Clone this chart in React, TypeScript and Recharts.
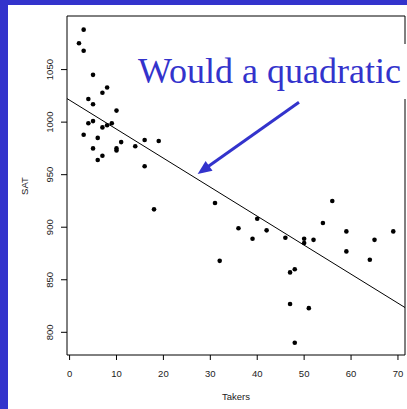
import React from "react";
import {
  ScatterChart, Scatter, XAxis, YAxis, ReferenceArea, ReferenceLine, Label
} from "recharts";

// state-level SAT data: percentage of takers vs mean SAT
const TAKERS = [
  3, 2, 3, 5, 8, 7, 4, 5, 10, 4, 5, 9, 7, 8, 3, 6, 11, 16, 19, 14, 5, 10, 10, 7, 6, 16, 18,
  31, 56, 36, 40, 42, 39, 46, 50, 50, 52, 54, 59, 59, 65, 69, 64, 32, 48, 47, 47, 51, 48,
];
const SAT = [
  1088, 1075, 1068, 1045, 1033, 1028, 1022, 1017, 1011, 999, 1001, 999, 995, 997, 988, 985, 981, 983, 982, 977, 975, 975, 973, 968, 964, 958, 917,
  923, 925, 899, 908, 897, 889, 890, 889, 885, 888, 904, 896, 877, 888, 896, 869, 868, 860, 857, 827, 823, 790,
];
const X_TICKS = [0, 10, 20, 30, 40, 50, 60, 70];
const Y_TICKS = [800, 850, 900, 950, 1000, 1050];
const X_DOMAIN = [-0.55, 71.5];
const Y_DOMAIN = [778.4, 1101];

// least squares line
const FIT_INTERCEPT = 1020.9;
const FIT_SLOPE = -2.76;

// arrow annotation (data coords): tail -> head
const ARROW_FROM = { x: 48.9, y: 1019 };
const ARROW_TO = { x: 27.3, y: 950.7 };

const BLUE = "#3333cc";
const TICK_FONT = { fontFamily: "'Liberation Sans', Arial, sans-serif", fontSize: 9.5, fill: "#222" };

const points = TAKERS.map((t, i) => ({ takers: t, sat: SAT[i] }));
const fitAt = (x: number) => FIT_INTERCEPT + FIT_SLOPE * x;

function Dot(props: any) {
  const { cx, cy } = props;
  return <circle cx={cx} cy={cy} r={2.3} fill="#000" />;
}

function YTick({ x, y, payload }: any) {
  const tx = x - 8;
  return (
    <text x={tx} y={y} transform={`rotate(-90, ${tx}, ${y})`} textAnchor="middle" {...TICK_FONT}>
      {payload.value}
    </text>
  );
}

function Arrow(props: any) {
  const { x1, y1, x2, y2 } = props;
  if (x1 == null) return null;
  const dx = x2 - x1;
  const dy = y2 - y1;
  const len = Math.sqrt(dx * dx + dy * dy);
  const ux = dx / len;
  const uy = dy / len;
  const headLen = 14;
  const headW = 6;
  const bx = x2 - ux * headLen;
  const by = y2 - uy * headLen;
  const pts = `${x2},${y2} ${bx - uy * headW},${by + ux * headW} ${bx + uy * headW},${by - ux * headW}`;
  return (
    <g>
      <line x1={x1} y1={y1} x2={bx + ux * 2} y2={by + uy * 2} stroke={BLUE} strokeWidth={3} />
      <polygon points={pts} fill={BLUE} />
    </g>
  );
}

export default function App() {
  return (
    <div style={{ position: "fixed", left: 0, top: 0, width: 407, height: 409, background: BLUE, overflow: "hidden" }}>
      <div style={{ position: "absolute", left: 8, top: 5, width: 399, height: 404, background: "#fff" }} />
      <div style={{ position: "absolute", left: 0, top: 0 }}>
        <ScatterChart width={407} height={409} margin={{ top: 16, right: 2, bottom: 0, left: 0 }}>
          <XAxis
            type="number"
            dataKey="takers"
            domain={X_DOMAIN}
            ticks={X_TICKS}
            allowDataOverflow
            axisLine={false}
            tickLine={{ stroke: "#000" }}
            tickSize={5}
            tickMargin={10}
            height={54}
            tick={TICK_FONT}
          >
            <Label
              value="Takers"
              position="insideBottom"
              offset={9}
              style={{ fontFamily: "'Liberation Sans', Arial, sans-serif", fontSize: 9.5, fill: "#222" }}
            />
          </XAxis>
          <YAxis
            type="number"
            dataKey="sat"
            domain={Y_DOMAIN}
            ticks={Y_TICKS}
            allowDataOverflow
            axisLine={false}
            tickLine={{ stroke: "#000" }}
            tickSize={6}
            tickMargin={0}
            width={67}
            tick={<YTick />}
          >
            <Label
              content={() => (
                <text x={28} y={186} transform="rotate(-90, 28, 186)" textAnchor="middle" {...TICK_FONT}>
                  SAT
                </text>
              )}
            />
          </YAxis>
          <ReferenceArea
            x1={X_DOMAIN[0]}
            x2={X_DOMAIN[1]}
            y1={Y_DOMAIN[0]}
            y2={Y_DOMAIN[1]}
            fill="none"
            fillOpacity={0}
            stroke="#000"
            strokeWidth={1}
          />
          <ReferenceLine
            segment={[
              { x: X_DOMAIN[0], y: fitAt(X_DOMAIN[0]) },
              { x: X_DOMAIN[1], y: fitAt(X_DOMAIN[1]) },
            ]}
            stroke="#000"
            strokeWidth={1}
          />
          <Scatter data={points} shape={<Dot />} isAnimationActive={false} />
          <ReferenceLine
            segment={[ARROW_FROM, ARROW_TO]}
            shape={(p: any) => <Arrow {...p} />}
          />
        </ScatterChart>
      </div>
      <div
        style={{
          position: "absolute",
          left: 138,
          top: 44,
          width: 269,
          height: 55,
          lineHeight: "55px",
          background: "#fff",
          color: BLUE,
          fontFamily: "'Liberation Serif', 'Times New Roman', serif",
          fontSize: 36,
          whiteSpace: "nowrap",
        }}
      >
        Would a quadratic
      </div>
    </div>
  );
}
